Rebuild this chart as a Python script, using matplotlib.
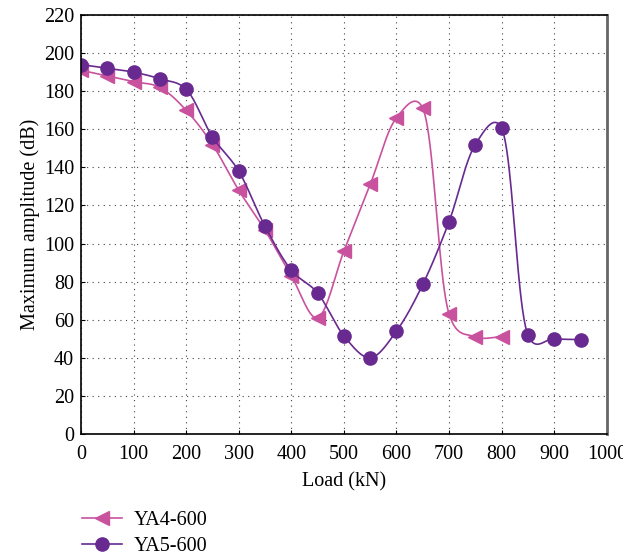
import numpy as np
import matplotlib.pyplot as plt

# Acoustic emission: maximum amplitude against load
load_ya4 = [0, 50, 100, 150, 200, 250, 300, 350, 400, 450, 500, 550, 600, 650, 700, 750, 800]
amp_ya4 = [191, 188, 185, 182, 170, 152, 128, 107, 83, 61, 96, 131, 166, 171, 63, 51, 51]

load_ya5 = [0, 50, 100, 150, 200, 250, 300, 350, 400, 450, 500, 550, 600, 650, 700, 750, 800, 850, 900, 950]
amp_ya5 = [194, 192, 190, 186.5, 181, 156, 138, 109, 86, 74, 51.5, 40, 54, 78.5, 111.5, 152, 160.5, 52, 50, 49.5]

PINK = '#c9529f'
PURPLE = '#682a90'


def smooth(x, y, alpha=0.2, sx=0.526, sy=1.905, n=40):
    # Catmull-Rom spline (parameter exponent alpha), computed in screen-like
    # units so the curve bends the same way it looks on the plot
    P = np.column_stack([np.asarray(x, float) * sx, np.asarray(y, float) * sy])
    P = np.vstack([2 * P[0] - P[1], P, 2 * P[-1] - P[-2]])
    out = []
    for i in range(1, len(P) - 2):
        p0, p1, p2, p3 = P[i - 1], P[i], P[i + 1], P[i + 2]
        t0 = 0.0
        t1 = t0 + np.linalg.norm(p1 - p0) ** alpha
        t2 = t1 + np.linalg.norm(p2 - p1) ** alpha
        t3 = t2 + np.linalg.norm(p3 - p2) ** alpha
        t = np.linspace(t1, t2, n, endpoint=False)[:, None]
        a1 = (t1 - t) / (t1 - t0) * p0 + (t - t0) / (t1 - t0) * p1
        a2 = (t2 - t) / (t2 - t1) * p1 + (t - t1) / (t2 - t1) * p2
        a3 = (t3 - t) / (t3 - t2) * p2 + (t - t2) / (t3 - t2) * p3
        b1 = (t2 - t) / (t2 - t0) * a1 + (t - t0) / (t2 - t0) * a2
        b2 = (t3 - t) / (t3 - t1) * a2 + (t - t1) / (t3 - t1) * a3
        out.append((t2 - t) / (t2 - t1) * b1 + (t - t1) / (t2 - t1) * b2)
    out.append(P[-2][None, :])
    out = np.vstack(out)
    return out[:, 0] / sx, out[:, 1] / sy


plt.rcParams['font.family'] = 'Liberation Serif'
plt.rcParams['font.size'] = 14.5

fig = plt.figure(figsize=(6.23, 5.57), dpi=100)
ax = fig.add_axes([0.130, 0.221, 0.844, 0.752])

for xv, yv, col, mk, lab in ((load_ya4, amp_ya4, PINK, '<', 'YA4-600'),
                              (load_ya5, amp_ya5, PURPLE, 'o', 'YA5-600')):
    cx, cy = smooth(xv, yv)
    ax.plot(cx, cy, color=col, lw=1.2)
    ax.plot(xv, yv, ls='none', marker=mk, ms=9.5, color=col)
    ax.plot([], [], color=col, lw=1.2, marker=mk, ms=9.5, label=lab)

ax.set_xlim(0, 1000)
ax.set_ylim(0, 220)
ax.set_xticks(np.arange(0, 1001, 100))
ax.set_yticks(np.arange(0, 221, 20))
ax.tick_params(direction='in', length=3, width=0.8, pad=5)
ax.tick_params(axis='x', pad=8)
ax.grid(True, color='#444444', linestyle=(0, (1, 4)), linewidth=0.8)
for s in ax.spines.values():
    s.set_linewidth(1.2)
ax.spines['right'].set_color('#666666')
ax.spines['right'].set_linewidth(2)

ax.set_xlabel('Load (kN)', labelpad=6)
ax.set_ylabel('Maximum amplitude (dB)', labelpad=3)

fig.legend(loc='upper left', bbox_to_anchor=(0.118, 0.098), frameon=False,
           handlelength=2.0, handletextpad=0.6, labelspacing=0.35, borderaxespad=0)

fig.savefig('out.png', dpi=100)
